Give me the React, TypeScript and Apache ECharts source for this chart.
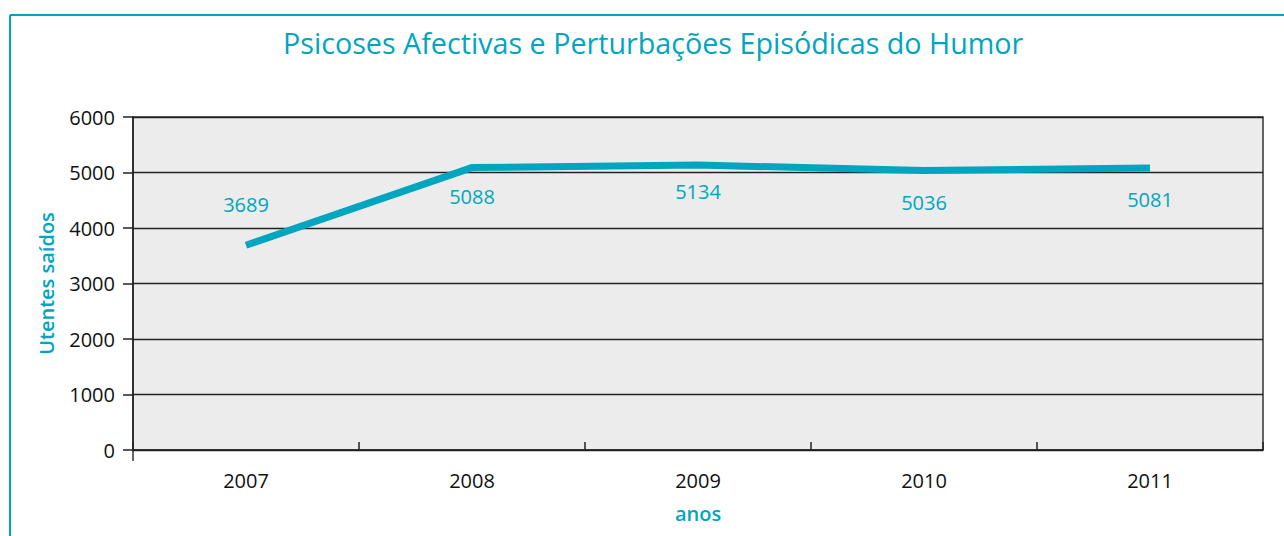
import React, { useEffect, useRef } from "react";
import * as echarts from "echarts";

const categories = ["2007", "2008", "2009", "2010", "2011"];
const values = [3689, 5088, 5134, 5036, 5081];
const yTicks = [0, 1000, 2000, 3000, 4000, 5000, 6000];
const labelDy = [-26, 44, 41, 47, 47];

const TEAL = "#00a5c0";
const W = 1284;
const H = 536;
const GRID = { left: 133, top: 117, right: 21, bottom: 86 };

export default function App() {
  const ref = useRef<HTMLDivElement>(null);
  useEffect(() => {
    if (!ref.current) return;
    const chart = echarts.init(ref.current, undefined, { renderer: "svg" });
    const font = "'Open Sans', 'Noto Sans', sans-serif";
    chart.setOption({
      animation: false,
      textStyle: { fontFamily: font },
      title: {
        text: "Psicoses Afectivas e Perturbações Episódicas do Humor",
        left: 278,
        top: 23,
        textStyle: { color: TEAL, fontSize: 28.7, fontWeight: 500, fontFamily: font },
      },
      graphic: [
        { type: "line", shape: { x1: 10, y1: 15, x2: 10, y2: H }, style: { stroke: TEAL, lineWidth: 2 } },
        { type: "line", shape: { x1: 10, y1: 15, x2: W, y2: 15 }, style: { stroke: TEAL, lineWidth: 2 } },
        {
          type: "line",
          shape: { x1: GRID.left, y1: H - GRID.bottom, x2: GRID.left, y2: H - GRID.bottom + 11 },
          style: { stroke: "#333", lineWidth: 1.5 },
        },
      ],
      grid: {
        ...GRID,
        show: true,
        backgroundColor: "#ececec",
        borderColor: "#333",
        borderWidth: 1.5,
      },
      xAxis: {
        type: "category",
        data: categories,
        boundaryGap: true,
        name: "anos",
        nameLocation: "middle",
        nameGap: 53,
        nameTextStyle: { color: TEAL, fontSize: 20, fontWeight: 600, fontFamily: font },
        axisLine: { show: true, lineStyle: { color: "#222", width: 1.5 } },
        axisTick: { show: true, inside: true, length: 8, lineStyle: { color: "#222", width: 1.5 } },
        axisLabel: { color: "#111", fontSize: 20, margin: 20, fontFamily: font },
        splitLine: { show: false },
      },
      yAxis: {
        type: "value",
        min: yTicks[0],
        max: yTicks[yTicks.length - 1],
        interval: yTicks[1] - yTicks[0],
        name: "Utentes saídos",
        nameLocation: "middle",
        nameGap: 77,
        nameRotate: 90,
        nameTextStyle: { color: TEAL, fontSize: 20, fontWeight: 600, fontFamily: font },
        axisLine: { show: true, lineStyle: { color: "#222", width: 1.5 } },
        axisTick: { show: true, inside: false, length: 10, lineStyle: { color: "#222", width: 1.5 } },
        axisLabel: {
          color: "#111",
          fontSize: 20,
          margin: 18,
          fontFamily: font,
          formatter: (v: number) => String(v),
        },
        splitLine: { show: true, lineStyle: { color: "#222", width: 1.3 } },
      },
      series: [
        {
          type: "line",
          data: values.map((v, i) => ({
            value: v,
            label: { offset: [0, labelDy[i]] },
          })),
          symbol: "circle",
          symbolSize: 0.1,
          showSymbol: true,
          lineStyle: { color: TEAL, width: 7, cap: "butt", join: "miter" },
          itemStyle: { color: TEAL, opacity: 0 },
          label: {
            show: true,
            position: "top",
            distance: 5,
            color: TEAL,
            fontSize: 20,
            fontWeight: 500,
            fontFamily: font,
            opacity: 1,
          },
        },
      ],
    });
    return () => chart.dispose();
  }, []);
  return (
    <div
      ref={ref}
      style={{ position: "fixed", left: 0, top: 0, width: W, height: H, background: "#fff" }}
    />
  );
}
